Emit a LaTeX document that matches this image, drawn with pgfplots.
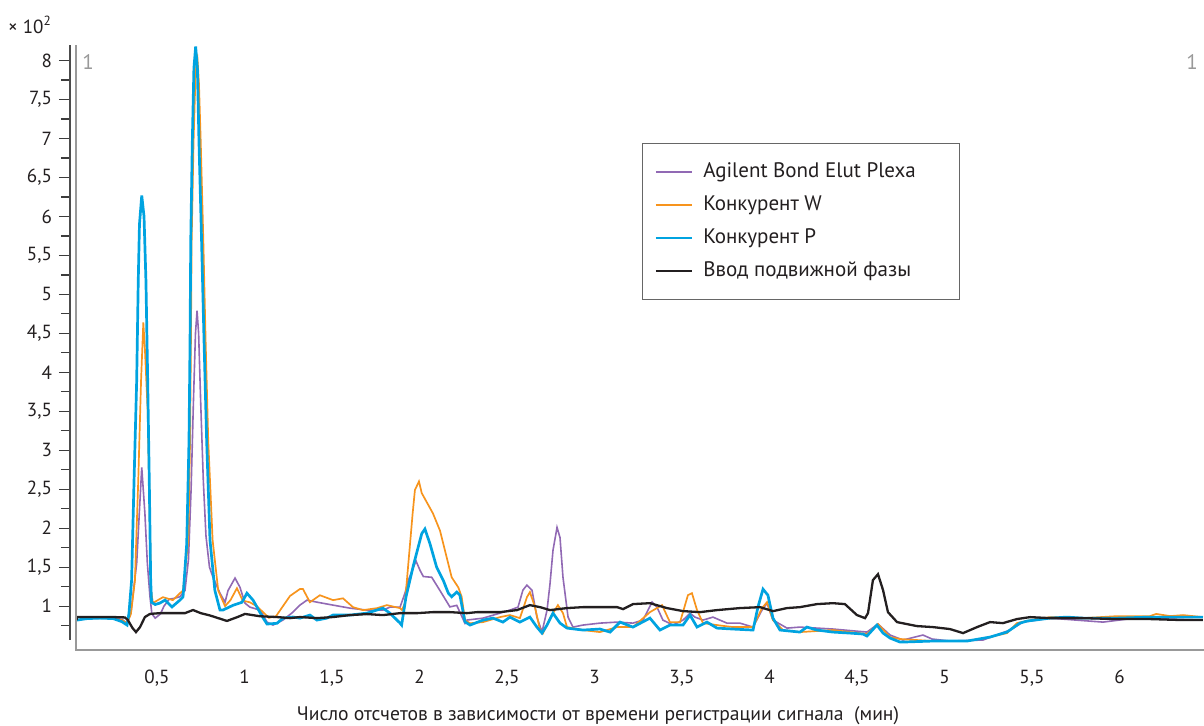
\documentclass[border=0pt]{standalone}
\usepackage{pgfplots}
\pgfplotsset{compat=1.18}
\usepackage{fontspec}
\setmainfont{PT Sans}
\definecolor{cpurple}{RGB}{145,105,180}
\definecolor{corange}{RGB}{247,148,29}
\definecolor{cblue}{RGB}{0,163,224}
\definecolor{cblack}{RGB}{35,31,32}
\definecolor{ctick}{RGB}{60,60,60}
\begin{document}
\begin{tikzpicture}
\useasboundingbox (-35pt,-37.5pt) rectangle (567pt,325pt);
\begin{axis}[
  at={(0,0)}, anchor=south west,
  scale only axis, width=567pt, height=302.5pt,
  xmin=0.003, xmax=6.483, ymin=0.437, ymax=8.2,
  axis lines=left, axis line style={draw=none},
  tick align=outside,
  xtick={0.5,1,1.5,2,2.5,3,3.5,4,4.5,5,5.5,6},
  ytick={1,1.5,2,2.5,3,3.5,4,4.5,5,5.5,6,6.5,7,7.5,8},
  minor ytick={0.75,1.25,1.75,2.25,2.75,3.25,3.75,4.25,4.75,5.25,5.75,6.25,6.75,7.25,7.75},
  xtick style={draw=none},
  ytick style={draw=ctick, line width=0.6pt},
  major tick length=5.5pt, minor tick length=4.5pt,
  /pgf/number format/.cd, use comma, 1000 sep={}, assume math mode=true,
  /pgfplots/.cd,
  tick label style={font=\fontsize{9.5}{10}\selectfont, text=cblack},
  xticklabel style={yshift=-1pt},
  clip=true,
  legend style={draw=black!60, line width=0.6pt, at={(0.5044,0.838)}, anchor=north west,
    inner xsep=6pt, inner ysep=6pt, font=\fontsize{10.5}{12}\selectfont,
    nodes={text height=7.5pt, text depth=2pt, inner ysep=3.5pt, inner xsep=5pt, text=cblack},
    row sep=0pt, column sep=0pt},
  legend cell align=left,
  legend image code/.code={\draw[#1] (0pt,0pt) -- (18pt,0pt);},
]
\addplot[cpurple, line width=0.8pt] table {
0.040 0.82
0.10 0.84
0.174 0.846
0.25 0.85
0.30 0.83
0.329 0.78
0.351 0.91
0.384 1.55
0.399 2.19
0.413 2.78
0.431 2.19
0.445 1.55
0.46 1.12
0.471 0.9
0.49 0.846
0.52 0.90
0.54 1.0
0.57 1.09
0.60 1.10
0.63 1.12
0.66 1.2
0.68 1.6
0.695 2.5
0.708 3.6
0.72 4.5
0.729 4.79
0.738 4.5
0.75 3.6
0.765 2.6
0.78 1.9
0.80 1.5
0.82 1.37
0.86 1.166
0.889 1.05
0.906 1.2
0.946 1.36
0.974 1.243
1.003 1.038
1.031 0.987
1.089 0.949
1.129 0.795
1.163 0.757
1.22 0.821
1.277 0.923
1.317 1.013
1.357 1.077
1.414 1.051
1.506 1.013
1.603 0.974
1.70 0.949
1.791 0.949
1.831 0.987
1.889 0.987
1.917 1.166
1.936 1.33
1.98 1.58
2.003 1.46
2.022 1.38
2.07 1.37
2.117 1.2
2.174 0.99
2.213 1.01
2.26 0.78
2.271 0.821
2.363 0.846
2.46 0.91
2.517 0.949
2.563 0.987
2.591 1.205
2.614 1.27
2.643 1.205
2.671 0.859
2.70 0.667
2.729 0.949
2.746 1.29
2.763 1.717
2.786 2.01
2.803 1.88
2.82 1.37
2.849 0.859
2.877 0.731
2.934 0.757
3.031 0.782
3.129 0.795
3.22 0.782
3.277 0.821
3.329 1.051
3.357 0.987
3.391 0.821
3.449 0.757
3.506 0.821
3.546 0.91
3.574 0.859
3.62 0.821
3.677 0.859
3.757 0.782
3.831 0.782
3.906 0.731
3.957 0.949
3.986 1.038
4.02 0.821
4.10 0.718
4.174 0.731
4.363 0.706
4.557 0.667
4.62 0.77
4.689 0.629
4.763 0.565
4.877 0.629
4.929 0.578
5.031 0.552
5.22 0.565
5.374 0.693
5.449 0.795
5.603 0.846
5.906 0.795
6.134 0.859
6.271 0.834
6.477 0.821
};
\addlegendentry{\makebox[117pt][l]{Agilent Bond Elut Plexa}}
\addplot[corange, line width=0.85pt] table {
0.040 0.82
0.10 0.846
0.174 0.85
0.25 0.84
0.30 0.82
0.329 0.78
0.351 0.9
0.374 1.33
0.393 2.61
0.409 3.89
0.422 4.64
0.431 4.3
0.447 3.5
0.456 2.5
0.466 1.2
0.477 1.04
0.534 1.115
0.591 1.077
0.631 1.166
0.649 1.2
0.679 1.845
0.689 3.12
0.694 4.4
0.698 5.68
0.709 6.96
0.72 7.8
0.73 8.08
0.74 7.7
0.75 6.96
0.765 5.68
0.778 4.4
0.793 3.12
0.818 1.845
0.85 1.2
0.889 1.0
0.92 1.077
0.957 1.23
0.99 1.07
1.03 1.05
1.07 1.0
1.14 0.85
1.18 0.87
1.22 1.0
1.26 1.13
1.317 1.22
1.334 1.22
1.374 1.05
1.431 1.14
1.506 1.077
1.563 1.1
1.62 0.987
1.677 0.949
1.757 0.974
1.814 1.013
1.889 0.974
1.90 0.95
1.917 1.04
1.961 2.19
1.974 2.49
1.997 2.60
2.013 2.45
2.077 2.19
2.117 1.97
2.155 1.63
2.184 1.37
2.222 1.24
2.241 1.12
2.26 0.82
2.289 0.78
2.363 0.795
2.46 0.859
2.517 0.885
2.574 0.846
2.614 1.115
2.631 1.18
2.66 0.987
2.689 0.693
2.706 0.654
2.746 0.846
2.791 1.013
2.82 0.91
2.843 0.731
2.934 0.693
3.031 0.667
3.129 0.731
3.22 0.731
3.317 0.923
3.386 1.013
3.431 0.795
3.489 0.795
3.534 1.141
3.557 1.166
3.586 0.949
3.62 0.782
3.70 0.757
3.791 0.731
3.906 0.731
3.957 0.974
3.986 1.051
4.02 0.821
4.077 0.693
4.174 0.667
4.363 0.693
4.557 0.642
4.62 0.77
4.689 0.603
4.746 0.578
4.934 0.552
5.129 0.552
5.26 0.603
5.357 0.654
5.414 0.782
5.49 0.82
5.603 0.859
5.79 0.846
5.99 0.872
6.174 0.872
6.21 0.90
6.29 0.872
6.363 0.885
6.477 0.859
};
\addlegendentry{\makebox[117pt][l]{Конкурент W}}
\addplot[cblue, line width=1.35pt] table {
0.040 0.82
0.10 0.84
0.174 0.846
0.25 0.84
0.30 0.80
0.329 0.757
0.34 0.91
0.355 1.33
0.369 2.61
0.384 3.89
0.393 5.17
0.40 5.9
0.413 6.27
0.426 6.0
0.437 5.17
0.447 3.89
0.456 2.61
0.464 1.33
0.469 1.05
0.49 1.02
0.517 1.04
0.546 1.077
0.586 0.99
0.631 1.077
0.649 1.12
0.67 1.8
0.683 3.12
0.689 4.4
0.693 5.68
0.702 6.96
0.711 7.9
0.721 8.18
0.731 7.9
0.74 6.96
0.755 5.68
0.769 4.4
0.784 3.12
0.803 1.845
0.831 1.2
0.86 0.95
0.877 0.95
0.934 1.01
0.986 1.05
1.014 1.166
1.049 1.077
1.106 0.85
1.129 0.77
1.186 0.78
1.22 0.846
1.277 0.86
1.317 0.846
1.374 0.885
1.414 0.821
1.471 0.846
1.506 0.885
1.603 0.885
1.70 0.91
1.791 0.974
1.831 0.91
1.889 0.782
1.898 0.757
1.923 1.12
1.965 1.52
1.993 1.76
2.013 1.93
2.031 1.99
2.06 1.8
2.098 1.5
2.136 1.33
2.165 1.166
2.184 1.12
2.213 1.18
2.231 1.14
2.26 0.80
2.289 0.757
2.363 0.821
2.42 0.846
2.477 0.795
2.517 0.859
2.574 0.795
2.631 0.859
2.671 0.731
2.70 0.654
2.729 0.757
2.763 0.91
2.803 0.782
2.843 0.718
2.934 0.693
3.031 0.706
3.089 0.667
3.146 0.795
3.22 0.731
3.317 0.846
3.374 0.693
3.431 0.757
3.506 0.757
3.546 0.885
3.586 0.731
3.643 0.795
3.70 0.718
3.791 0.706
3.906 0.693
3.934 0.987
3.963 1.218
3.991 1.141
4.02 0.846
4.06 0.693
4.174 0.667
4.214 0.731
4.271 0.693
4.363 0.667
4.46 0.654
4.534 0.642
4.557 0.616
4.614 0.757
4.649 0.654
4.689 0.59
4.746 0.539
4.763 0.539
4.934 0.552
5.129 0.552
5.26 0.603
5.357 0.667
5.431 0.782
5.471 0.808
5.603 0.846
5.70 0.859
5.791 0.846
5.986 0.846
6.174 0.859
6.363 0.859
6.477 0.859
};
\addlegendentry{\makebox[117pt][l]{Конкурент P}}
\addplot[cblack, line width=1.15pt] table {
0.040 0.82
0.043 0.86
0.10 0.86
0.174 0.86
0.25 0.86
0.317 0.855
0.334 0.82
0.36 0.72
0.38 0.667
0.403 0.73
0.431 0.86
0.46 0.90
0.517 0.91
0.603 0.91
0.66 0.91
0.706 0.95
0.75 0.91
0.803 0.88
0.90 0.81
0.96 0.86
1.003 0.90
1.089 0.87
1.186 0.86
1.26 0.846
1.317 0.86
1.414 0.846
1.506 0.86
1.603 0.885
1.70 0.898
1.791 0.885
1.889 0.91
1.986 0.91
2.077 0.923
2.174 0.923
2.271 0.91
2.329 0.923
2.46 0.923
2.557 0.949
2.631 1.013
2.689 0.987
2.746 0.949
2.843 0.975
2.934 0.987
3.031 0.987
3.129 0.987
3.163 0.962
3.22 1.026
3.317 1.038
3.414 0.975
3.506 0.936
3.603 0.923
3.70 0.949
3.831 0.975
3.946 0.987
4.02 0.936
4.10 0.975
4.174 0.987
4.271 1.026
4.363 1.038
4.431 1.026
4.50 0.885
4.546 0.846
4.563 0.91
4.591 1.333
4.62 1.41
4.649 1.205
4.677 0.923
4.729 0.795
4.843 0.744
4.934 0.731
5.031 0.706
5.106 0.654
5.186 0.731
5.26 0.795
5.334 0.782
5.414 0.834
5.489 0.859
5.603 0.846
5.791 0.846
5.986 0.834
6.174 0.834
6.363 0.821
6.477 0.821
};
\addlegendentry{\makebox[117pt][l]{Ввод подвижной фазы}}
\end{axis}
\draw[black!70, line width=0.6pt] (0pt,302.5pt) -- (0pt,5pt);
\draw[black!40, line width=1pt] (3pt,302.5pt) -- (3pt,0pt) -- (567pt,0pt);
\node[font=\fontsize{9.5}{10}\selectfont, text=cblack] at (-20pt,312.5pt) {× 10\textsuperscript{2}};
\node[font=\fontsize{10.5}{12}\selectfont, text=black!40] at (9pt,294pt) {1};
\node[font=\fontsize{10.5}{12}\selectfont, text=black!40] at (561pt,294pt) {1};
\node[font=\fontsize{9.8}{11}\selectfont, text=cblack] at (264pt,-33pt) {Число отсчетов в зависимости от времени регистрации сигнала\ \ (мин)};
\end{tikzpicture}
\end{document}
